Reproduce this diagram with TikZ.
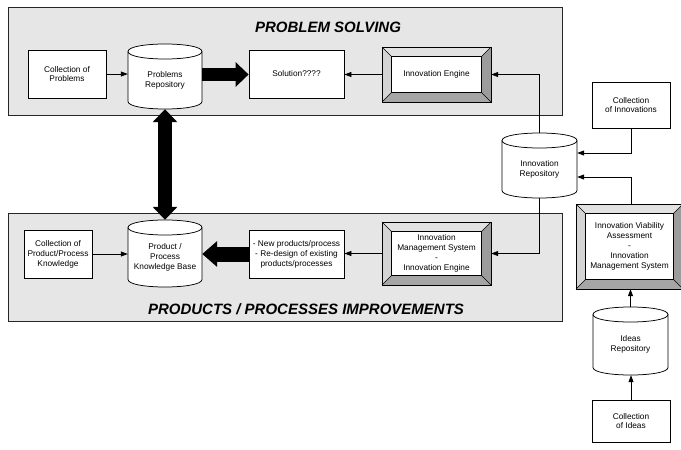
\documentclass[tikz,border=0pt]{standalone}
\usepackage{fontspec}
\setmainfont{Liberation Sans}
\usetikzlibrary{arrows.meta,calc}
\definecolor{panelgray}{HTML}{E6E6E6}
\definecolor{bevtop}{HTML}{E2E2E2}
\definecolor{bevleft}{HTML}{D4D4D4}
\definecolor{bevright}{HTML}{9C9C9C}
\definecolor{bevbottom}{HTML}{A6A6A6}
\newcommand\cylry{7.5}
\newcommand\bvd{9.5}
% cylinder: name, left, top, right, bottom, text
\newcommand\drawcyl[6]{%
  \path[draw=black,fill=white,line width=0.75pt]
    (#2,#3+\cylry) -- (#2,#5-\cylry)
    .. controls (#2,#5+\cylry/3) and (#4,#5+\cylry/3) .. (#4,#5-\cylry)
    -- (#4,#3+\cylry)
    .. controls (#4,#3-\cylry/3) and (#2,#3-\cylry/3) .. (#2,#3+\cylry) -- cycle;
  \draw[line width=0.75pt] (#2,#3+\cylry)
    .. controls (#2,#3+7*\cylry/3) and (#4,#3+7*\cylry/3) .. (#4,#3+\cylry);
  \node[inner sep=0,minimum width={#4-#2},minimum height={#5-#3}] (#1)
    at ({(#2+#4)/2},{(#3+#5)/2}) {};
  \node[txt] (#1-t) at ({(#2+#4)/2},{(#3+\cylry+#5)/2}) {#6};
}
% bevel box: name, x1, y1, x2, y2, text
\newcommand\drawbevel[6]{%
  \fill[bevtop] (#2,#3) -- (#4,#3) -- (#4-\bvd,#3+\bvd) -- (#2+\bvd,#3+\bvd) -- cycle;
  \fill[bevleft] (#2,#3) -- (#2+\bvd,#3+\bvd) -- (#2+\bvd,#5-\bvd) -- (#2,#5) -- cycle;
  \fill[bevright] (#4,#3) -- (#4,#5) -- (#4-\bvd,#5-\bvd) -- (#4-\bvd,#3+\bvd) -- cycle;
  \fill[bevbottom] (#2,#5) -- (#4,#5) -- (#4-\bvd,#5-\bvd) -- (#2+\bvd,#5-\bvd) -- cycle;
  \draw[line width=0.75pt] (#2,#3) rectangle (#4,#5);
  \draw[line width=0.75pt,fill=white] (#2+\bvd,#3+\bvd) rectangle (#4-\bvd,#5-\bvd);
  \draw[line width=0.6pt] (#2,#3) -- (#2+\bvd,#3+\bvd)
    (#4,#3) -- (#4-\bvd,#3+\bvd)
    (#2,#5) -- (#2+\bvd,#5-\bvd)
    (#4,#5) -- (#4-\bvd,#5-\bvd);
  \node[txt,inner sep=0,minimum width={#4-#2},minimum height={#5-#3}] (#1)
    at ({(#2+#4)/2},{(#3+#5)/2}) {#6};
}
\begin{document}
\begin{tikzpicture}[x=1pt,y=-1pt,
  txt/.style={align=center,font=\fontsize{8.3}{9.9}\selectfont,text=black},
  box/.style={txt,draw=black,fill=white,line width=0.75pt,inner sep=0},
  panelbox/.style={draw=black!85,fill=panelgray,line width=0.9pt,inner sep=0},
  ttl/.style={font=\fontsize{15}{17}\selectfont\bfseries\itshape},
  conn/.style={line width=0.75pt,-{Triangle[length=7pt,width=5pt]}},
  ]
\useasboundingbox (0,0) rectangle (681,450);
% panels
\node[panelbox,minimum width=554,minimum height=108] (ps) at (285,61) {};
\node[panelbox,minimum width=554,minimum height=108] (pp) at (285,267) {};
\node[ttl] (pst) at (328,27) {PROBLEM SOLVING};
\node[ttl] (ppt) at (306,309) {PRODUCTS / PROCESSES IMPROVEMENTS};
% plain boxes
\node[box,minimum width=78,minimum height=48] (cp) at (67,74) {Collection of\\Problems};
\node[box,minimum width=95,minimum height=48] (sol) at (296.5,74) {Solution????};
\node[box,minimum width=78,minimum height=46] (ci) at (631,105) {Collection\\of Innovations};
\node[box,minimum width=68,minimum height=48] (pk) at (58,254) {Collection of\\Product/Process\\Knowledge};
\node[box,minimum width=95,minimum height=48] (np) at (296.5,254) {- New products/process\\- Re-design of existing\\products/processes};
\node[box,minimum width=78,minimum height=42] (cid) at (631,421) {Collection\\of Ideas};
% cylinders
\drawcyl{pr}{128}{44}{202}{109}{Problems\\Repository}
\drawcyl{kb}{128}{220}{202}{287}{Product /\\Process\\Knowledge Base}
\drawcyl{ir}{502}{133}{577}{198}{Innovation\\Repository}
\drawcyl{idr}{593}{307}{668}{375}{Ideas\\Repository}
% bevel boxes
\drawbevel{ie}{382}{47}{491}{102}{Innovation Engine}
\drawbevel{ims}{382}{222}{491}{285}{Innovation\\Management System\\-\\Innovation Engine}
\drawbevel{iva}{576}{204}{683}{289}{Innovation Viability\\Assessment\\-\\Innovation\\Management System}
% thin connectors
\draw[conn] (cp.east) -- (cp.east -| pr.west);
\draw[conn] (ie.west) -- (ie.west -| sol.east);
\draw[conn] (ir.north) |- (ie.east);
\draw[conn] (ci.south) |- ($(ir.east)+(0,-12.5)$);
\draw[conn] (iva.north -| ci.south) |- ($(ir.east)+(0,11.5)$);
\draw[conn] (ir.south) |- (ims.east);
\draw[conn] (ims.west) -- (ims.west -| np.east);
\draw[conn] (pk.east) -- (pk.east -| kb.west);
\draw[conn] (idr.north) -- (idr.north |- iva.south);
\draw[conn] (cid.north) -- (cid.north |- idr.south);
% thick connectors
\draw[line width=13pt,-{Triangle[length=13pt,width=24pt]}] ([yshift=2pt]pr.east) -- ([yshift=2pt]pr.east -| sol.west);
\draw[line width=15pt,-{Triangle[length=15pt,width=25pt]}] (np.west) -- (np.west -| kb.east);
\draw[line width=14pt,{Triangle[length=13pt,width=24pt]}-{Triangle[length=13pt,width=24pt]}] (pr.south) -- (kb.north);
\end{tikzpicture}
\end{document}
